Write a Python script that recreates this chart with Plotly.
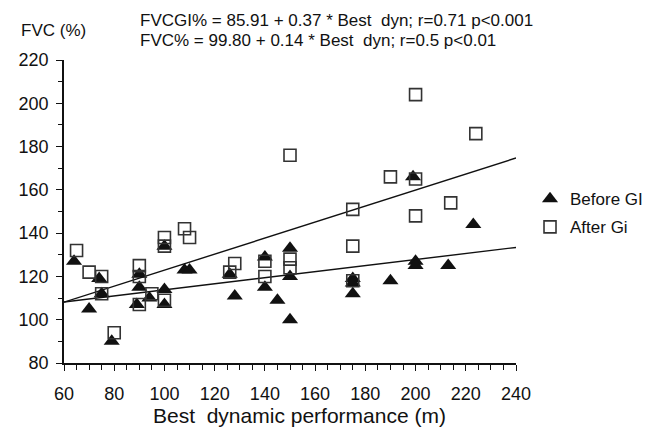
import plotly.graph_objects as go

# Before GI (filled triangles)
before_x = [64, 70, 74, 75, 79, 90, 90, 89, 94, 100, 100, 100, 108, 110, 126, 128,
            140, 140, 145, 150, 150, 150, 175, 175, 175, 190, 199, 200, 200, 213, 223]
before_y = [127, 105, 119, 112, 90, 121, 115, 107, 110, 134, 114, 107, 123, 123, 121, 111,
            129, 115, 109, 133, 120, 100, 119, 117, 112, 118, 166, 127, 125, 125, 144]

# After Gi (open squares)
after_x = [65, 70, 75, 75, 80, 90, 90, 90, 95, 100, 100, 100, 108, 110, 126, 128,
           140, 140, 150, 150, 150, 175, 175, 175, 190, 200, 200, 200, 214, 224]
after_y = [132, 122, 120, 112, 94, 125, 120, 107, 112, 138, 134, 109, 142, 138, 122, 126,
           127, 120, 176, 128, 124, 151, 134, 118, 166, 204, 165, 148, 154, 186]

# Regression line end points
fit_x = [60, 240]
fit_after = [108.1, 174.7]
fit_before = [108.2, 133.4]

FONT = "Liberation Sans, Arial, sans-serif"

fig = go.Figure()
fig.add_trace(go.Scatter(x=fit_x, y=fit_after, mode="lines",
                         line=dict(color="#111", width=1.4), showlegend=False, hoverinfo="skip"))
fig.add_trace(go.Scatter(x=fit_x, y=fit_before, mode="lines",
                         line=dict(color="#111", width=1.4), showlegend=False, hoverinfo="skip"))
fig.add_trace(go.Scatter(x=before_x, y=before_y, mode="markers", name="Before GI",
                         legendgroup="a",
                         marker=dict(symbol="triangle-up", size=14, color="#111",
                                     line=dict(width=0))))
fig.add_trace(go.Scatter(x=after_x, y=after_y, mode="markers", name="After Gi",
                         legendgroup="b",
                         marker=dict(symbol="square-open", size=12, color="#333",
                                     line=dict(width=1.6, color="#333"))))

fig.update_layout(
    width=652, height=429,
    margin=dict(l=64, r=136, t=60, b=66, autoexpand=False),
    paper_bgcolor="white", plot_bgcolor="white",
    font=dict(family=FONT, size=17, color="#111"),
    showlegend=True,
    legend=dict(x=1.031, y=0.6, xanchor="left", yanchor="top",
                traceorder="grouped", tracegroupgap=3,
                font=dict(family=FONT, size=17, color="#111"),
                bgcolor="rgba(0,0,0,0)", itemwidth=30),
)

fig.update_xaxes(range=[60, 240], tick0=60, dtick=20, showgrid=False, zeroline=False,
                 showline=True, linecolor="#111", linewidth=1.5,
                 ticks="outside", ticklen=6, tickwidth=1.3, tickcolor="#111",
                 ticklabelstandoff=8, automargin=False,
                 tickfont=dict(family=FONT, size=18, color="#111"),
                 minor=dict(dtick=5, ticks="outside", ticklen=5, tickwidth=1.2,
                            tickcolor="#111", showgrid=False))
fig.update_yaxes(range=[80, 220], tick0=80, dtick=20, showgrid=False, zeroline=False,
                 showline=True, linecolor="#111", linewidth=1.5,
                 ticks="outside", ticklen=6, tickwidth=1.3, tickcolor="#111",
                 ticklabelstandoff=4, automargin=False,
                 tickfont=dict(family=FONT, size=18, color="#111"),
                 minor=dict(dtick=10, ticks="outside", ticklen=4, tickwidth=1.2,
                            tickcolor="#111", showgrid=False))

ann = [
    dict(text="FVC (%)", x=-0.1, y=1.096, xanchor="left", yanchor="middle", size=17),
    dict(text="FVCGI% = 85.91 + 0.37 * Best\u00a0 dyn; r=0.71 p<0.001",
         x=0.164, y=1.129, xanchor="left", yanchor="middle", size=17),
    dict(text="FVC% = 99.80 + 0.14 * Best\u00a0 dyn; r=0.5 p<0.01",
         x=0.164, y=1.063, xanchor="left", yanchor="middle", size=17),
    dict(text="Best\u00a0 dynamic performance (m)", x=0.522, y=-0.172,
         xanchor="center", yanchor="middle", size=21),
]
for a in ann:
    fig.add_annotation(text=a["text"], x=a["x"], y=a["y"], xref="paper", yref="paper",
                       xanchor=a["xanchor"], yanchor=a["yanchor"], showarrow=False,
                       font=dict(family=FONT, size=a["size"], color="#111"))

fig.write_html("out.html", config={"displayModeBar": False},
               post_script="document.body.style.margin='0';document.body.style.overflow='hidden';")
